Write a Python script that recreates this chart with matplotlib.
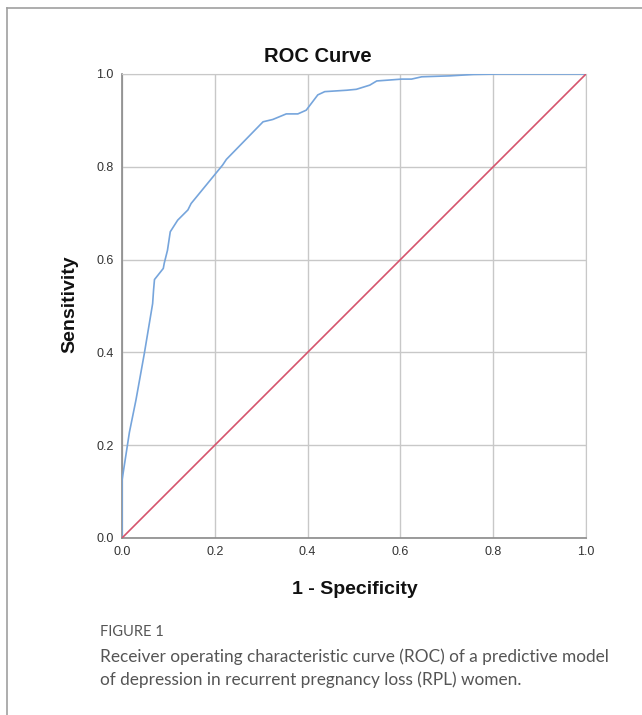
import matplotlib
matplotlib.use("Agg")
import matplotlib.pyplot as plt
from matplotlib.lines import Line2D

# ROC curve
fpr = [0.0, 0.0, 0.004, 0.016, 0.030, 0.048, 0.066, 0.068, 0.070, 0.089, 0.091,
       0.098, 0.104, 0.120, 0.142, 0.149, 0.199, 0.217, 0.225, 0.304, 0.325,
       0.354, 0.379, 0.397, 0.422, 0.437, 0.484, 0.505, 0.534, 0.549, 0.603,
       0.624, 0.646, 0.707, 0.757, 0.815, 1.0]
tpr = [0.0, 0.124, 0.150, 0.228, 0.297, 0.397, 0.505, 0.534, 0.557, 0.581, 0.592,
       0.620, 0.660, 0.685, 0.707, 0.721, 0.782, 0.804, 0.816, 0.897, 0.902,
       0.914, 0.914, 0.922, 0.955, 0.962, 0.965, 0.967, 0.976, 0.985, 0.989,
       0.989, 0.994, 0.996, 0.999, 1.0, 1.0]
ref_line = [0.0, 1.0]
ticks = [0.0, 0.2, 0.4, 0.6, 0.8, 1.0]

title = "ROC Curve"
xlabel = "1 - Specificity"
ylabel = "Sensitivity"
fig_label = "FIGURE 1"
caption = ("Receiver operating characteristic curve (ROC) of a predictive model\n"
           "of depression in recurrent pregnancy loss (RPL) women.")

W, H = 642, 715
fig = plt.figure(figsize=(W / 100, H / 100), dpi=100)
fig.patch.set_facecolor("white")

# page frame (left and top edge)
fig.add_artist(Line2D([7 / W, 7 / W], [0, 1 - 8 / H], transform=fig.transFigure,
                      color="#a0a0a0", lw=1.2))
fig.add_artist(Line2D([7 / W, 1], [1 - 8 / H, 1 - 8 / H], transform=fig.transFigure,
                      color="#a0a0a0", lw=1.2))

ax = fig.add_axes([122 / W, (H - 538) / H, 464 / W, 464 / H])
ax.plot(fpr, tpr, color="#76a5dc", lw=1.2, zorder=3)
ax.plot(ref_line, ref_line, color="#d5546d", lw=1.2, zorder=3)

ax.set_xlim(0, 1)
ax.set_ylim(0, 1)
ax.set_xticks(ticks)
ax.set_yticks(ticks)
ax.set_xticklabels([f"{t:.1f}" for t in ticks])
ax.set_yticklabels([f"{t:.1f}" for t in ticks])
ax.grid(True, color="#c8c8c8", lw=1.0)
ax.set_axisbelow(True)
for side in ["top", "right"]:
    ax.spines[side].set_color("#c8c8c8")
for side in ["left", "bottom"]:
    ax.spines[side].set_color("#8a8a8a")
    ax.spines[side].set_linewidth(1.2)
ax.tick_params(axis="x", length=0, pad=6, labelsize=9, labelcolor="#333333")
ax.tick_params(axis="y", length=0, pad=6, labelsize=9, labelcolor="#333333")
for lab in ax.get_xticklabels() + ax.get_yticklabels():
    lab.set_family("Liberation Sans")

fig.text(318 / W, 1 - 57 / H, title, ha="center", va="center",
         fontsize=14.5, fontweight="bold", family="Liberation Sans", color="#111111")
fig.text(355 / W, 1 - 589 / H, xlabel, ha="center", va="center",
         fontsize=14, fontweight="bold", family="Liberation Sans", color="#111111")
fig.text(70 / W, 1 - 304 / H, ylabel, ha="center", va="center", rotation=90,
         fontsize=14, fontweight="bold", family="Liberation Sans", color="#111111")

fig.text(100 / W, 1 - 632 / H, fig_label, ha="left", va="center",
         fontsize=10.5, family="Lato", color="#555555")
fig.text(100 / W, 1 - 668 / H, caption, ha="left", va="center",
         fontsize=12.45, family="Lato", color="#555555", linespacing=1.5)

fig.savefig("out.png", dpi=100, facecolor="white")
